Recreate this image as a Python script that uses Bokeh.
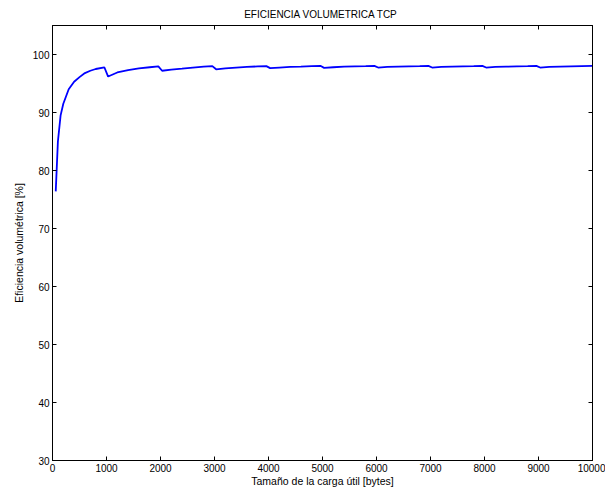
from bokeh.plotting import figure
from bokeh.models import LinearAxis, FixedTicker, Range1d, Title
from bokeh.embed import file_html
from bokeh.resources import INLINE

# Payload size [bytes]
payload = [60, 100, 150, 200, 300, 400, 500, 600, 700, 800, 960,
           1030, 1200, 1400, 1600, 1800, 1960,
           2030, 2200, 2400, 2600, 2800, 2960,
           3030, 3200, 3400, 3600, 3800, 3960,
           4030, 4200, 4400, 4600, 4800, 4960,
           5030, 5200, 5400, 5600, 5800, 5960,
           6030, 6200, 6400, 6600, 6800, 6960,
           7030, 7200, 7400, 7600, 7800, 7960,
           8030, 8200, 8400, 8600, 8800, 8960,
           9030, 9200, 9400, 9600, 9800, 10000]
# Volumetric efficiency [%]
efficiency = [76.4, 85.0, 89.5, 91.5, 94.0, 95.3, 96.1, 96.8, 97.2, 97.5, 97.8,
              96.2, 96.9, 97.3, 97.6, 97.8, 97.95,
              97.2, 97.4, 97.55, 97.75, 97.9, 98.0,
              97.45, 97.6, 97.75, 97.85, 97.95, 98.0,
              97.65, 97.75, 97.85, 97.9, 98.0, 98.05,
              97.7, 97.8, 97.9, 97.95, 98.0, 98.05,
              97.75, 97.85, 97.9, 97.95, 98.0, 98.05,
              97.75, 97.85, 97.9, 97.95, 98.0, 98.05,
              97.75, 97.85, 97.9, 97.95, 98.0, 98.05,
              97.75, 97.85, 97.9, 97.95, 98.0, 98.05]

x_ticks = [0, 1000, 2000, 3000, 4000, 5000, 6000, 7000, 8000, 9000, 10000]
y_ticks = [30, 40, 50, 60, 70, 80, 90, 100]

FONT = "Liberation Sans"

p = figure(width=605, height=490, output_backend="svg", toolbar_location=None,
           x_range=Range1d(0, 10000), y_range=Range1d(30, 105),
           min_border_left=52, min_border_right=13, min_border_top=25, min_border_bottom=30)

p.line(payload, efficiency, line_color="#0000ff", line_width=1.8)

p.xgrid.visible = False
p.ygrid.visible = False
p.outline_line_color = "black"
p.outline_line_width = 1
p.background_fill_color = "white"
p.border_fill_color = "white"

for ax, ticks in ((p.xaxis[0], x_ticks), (p.yaxis[0], y_ticks)):
    ax.ticker = FixedTicker(ticks=ticks)
    ax.major_tick_in = 4
    ax.major_tick_out = 0
    ax.minor_tick_in = 0
    ax.minor_tick_out = 0
    ax.axis_line_color = "black"
    ax.major_label_text_font = FONT
    ax.major_label_text_font_size = "10px"
    ax.major_label_text_color = "black"
    ax.axis_label_text_font = FONT
    ax.axis_label_text_font_size = "10.5px"
    ax.axis_label_text_font_style = "normal"
    ax.axis_label_text_color = "black"
    ax.major_label_standoff = 3
    ax.axis_label_standoff = 5

p.xaxis.axis_label = "Tamaño de la carga útil [bytes]"
p.yaxis.axis_label = "Eficiencia volumétrica [%]"
p.xaxis.axis_label_standoff = 0

top = LinearAxis(ticker=FixedTicker(ticks=x_ticks), major_label_text_color=None,
                 major_label_text_font_size="1px",
                 major_tick_in=4, major_tick_out=0, minor_tick_in=0, minor_tick_out=0,
                 major_label_standoff=0)
right = LinearAxis(ticker=FixedTicker(ticks=y_ticks), major_label_text_color=None,
                   major_label_text_font_size="1px",
                   major_tick_in=4, major_tick_out=0, minor_tick_in=0, minor_tick_out=0,
                   major_label_standoff=0)
p.add_layout(top, "above")
p.add_layout(right, "right")

title = Title(text="EFICIENCIA VOLUMETRICA  TCP", align="center", text_font=FONT,
              text_font_size="10px", text_font_style="normal", text_color="black",
              standoff=12)
p.add_layout(title, "above")

open("out.html", "w").write(file_html(p, INLINE))
